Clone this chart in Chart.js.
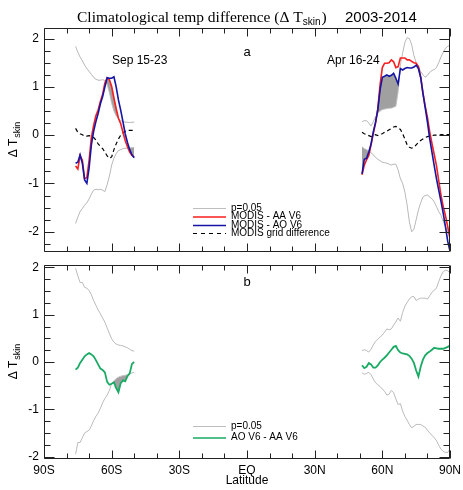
<!DOCTYPE html>
<html>
<head>
<meta charset="utf-8">
<script src="https://cdn.jsdelivr.net/npm/chart.js@4.4.0/dist/chart.umd.min.js"></script>
<style>
body { margin: 0; background: #fff; width: 463px; height: 490px; position: relative; overflow: hidden; }
canvas { position: absolute; left: 0; }
#panelA { top: 0; }
#panelB { top: 256px; }
</style>
</head>
<body>
<canvas id="panelA" width="463" height="256"></canvas>
<canvas id="panelB" width="463" height="234"></canvas>
<script>
// latitude grids (deg, negative = south)
const latSouth = [-76, -75, -74, -73, -72, -71, -70, -69, -68, -67, -66, -65, -64, -63, -62, -61, -60, -59, -58, -57, -56, -55, -54, -53, -52, -51, -50];
const latNorth = [51, 52, 53, 54, 55, 56, 57, 58, 59, 60, 61, 62, 63, 64, 65, 66, 67, 68, 69, 70, 71, 72, 73, 74, 75, 76, 77, 78, 79, 80, 81, 82, 83, 84, 85, 86, 87, 88, 89, 90];

// panel a, Sep 15-23
const aaSouth = [-0.64, -0.70, -0.42, -0.52, -0.90, -0.88, -0.52, -0.05, 0.20, 0.40, 0.52, 0.70, 0.85, 1.08, 1.19, 1.15, 1.01, 0.77, 0.55, 0.35, 0.24, 0.06, -0.11, -0.24, -0.35, -0.42, -0.45];
const aoSouth = [-0.58, -0.56, -0.41, -0.58, -0.93, -1.00, -0.68, -0.20, 0.08, 0.28, 0.45, 0.65, 0.80, 1.00, 1.19, 1.18, 1.18, 1.21, 1.00, 0.73, 0.52, 0.28, 0.03, -0.15, -0.30, -0.41, -0.47];
const gridSouth = [0.14, 0.06, 0.03, 0.01, -0.02, -0.02, -0.01, -0.02, -0.05, -0.10, -0.18, -0.23, -0.28, -0.35, -0.43, -0.48, -0.45, -0.30, -0.18, -0.08, 0.00, 0.05, 0.08, 0.10, 0.10, 0.10, 0.10];
const sigHiSouthA = [1.84, 1.72, 1.62, 1.54, 1.45, 1.38, 1.32, 1.26, 1.20, 1.16, 1.14, 1.14, 1.15, 1.13, 1.05, 0.88, 0.66, 0.50, 0.40, 0.34, 0.30, 0.28, 0.27, 0.27, 0.26, 0.27, 0.27];
const sigLoSouthA = [-1.83, -1.70, -1.58, -1.52, -1.45, -1.40, -1.32, -1.22, -1.14, -1.12, -1.13, -1.12, -1.14, -1.17, -1.02, -0.85, -0.62, -0.48, -0.38, -0.32, -0.30, -0.28, -0.27, -0.27, -0.26, -0.26, -0.25];

// panel a, Apr 16-24
const aaNorth = [-0.82, -0.62, -0.51, -0.42, -0.20, 0.04, 0.25, 0.55, 1.05, 1.40, 1.49, 1.49, 1.50, 1.56, 1.52, 1.40, 1.42, 1.60, 1.60, 1.60, 1.56, 1.56, 1.53, 1.50, 1.49, 1.42, 1.20, 0.87, 0.60, 0.37, 0.07, -0.17, -0.40, -0.63, -0.94, -1.24, -1.48, -1.67, -1.90, -2.15];
const aoNorth = [-0.80, -0.50, -0.48, -0.35, -0.18, 0.07, 0.27, 0.53, 0.94, 1.20, 1.22, 1.25, 1.22, 1.24, 1.28, 1.18, 1.06, 1.38, 1.35, 1.38, 1.40, 1.39, 1.39, 1.41, 1.45, 1.38, 1.20, 0.87, 0.57, 0.27, -0.07, -0.35, -0.63, -0.90, -1.14, -1.37, -1.62, -1.90, -2.20, -2.40];
const gridNorth = [0.06, 0.03, 0.01, -0.01, -0.03, -0.01, 0.01, -0.01, 0.02, 0.03, 0.06, 0.08, 0.11, 0.14, 0.17, 0.18, 0.15, 0.12, 0.03, -0.08, -0.20, -0.25, -0.27, -0.25, -0.20, -0.15, -0.11, -0.08, -0.05, -0.03, -0.02, -0.01, 0.00, 0.00, 0.00, 0.01, 0.01, 0.01, 0.01, 0.01];
const sigHiNorthA = [0.28, 0.30, 0.30, 0.25, 0.19, 0.28, 0.38, 0.45, 0.50, 0.53, 0.54, 0.55, 0.56, 0.56, 0.58, 0.60, 0.90, 1.45, 1.70, 1.92, 2.02, 2.00, 1.88, 1.65, 1.50, 1.42, 1.32, 1.25, 1.20, 1.24, 1.30, 1.34, 1.36, 1.40, 1.50, 1.62, 1.72, 1.80, 1.84, 1.86];
const sigLoNorthA = [-0.24, -0.28, -0.30, -0.33, -0.36, -0.41, -0.46, -0.50, -0.53, -0.56, -0.57, -0.58, -0.60, -0.62, -0.60, -0.60, -0.72, -0.90, -1.00, -1.18, -1.45, -1.80, -2.00, -1.95, -1.75, -1.55, -1.40, -1.28, -1.25, -1.24, -1.28, -1.32, -1.38, -1.48, -1.58, -1.66, -1.79, -1.90, -2.00, -2.10];

// panel b, AO V6 - AA V6
const diffSouth = [-0.16, -0.12, -0.02, 0.05, 0.12, 0.16, 0.19, 0.16, 0.12, 0.04, -0.05, -0.14, -0.17, -0.22, -0.42, -0.48, -0.46, -0.43, -0.55, -0.64, -0.45, -0.39, -0.41, -0.30, -0.24, -0.04, 0.00];
const sigHiSouthB = [1.98, 1.82, 1.68, 1.68, 1.58, 1.56, 1.51, 1.42, 1.30, 1.20, 1.10, 1.02, 0.93, 0.84, 0.72, 0.60, 0.49, 0.42, 0.38, 0.36, 0.35, 0.34, 0.32, 0.30, 0.27, 0.24, 0.23];
const sigLoSouthB = [-1.95, -1.70, -1.70, -1.60, -1.50, -1.47, -1.44, -1.35, -1.24, -1.15, -1.08, -0.98, -0.86, -0.77, -0.70, -0.60, -0.45, -0.40, -0.35, -0.32, -0.30, -0.29, -0.28, -0.27, -0.25, -0.23, -0.22];
const diffNorth = [-0.07, -0.13, -0.10, -0.02, -0.05, -0.12, -0.12, -0.07, 0.00, 0.05, 0.09, 0.14, 0.20, 0.26, 0.32, 0.34, 0.25, 0.20, 0.18, 0.17, 0.16, 0.13, 0.07, -0.02, -0.18, -0.31, -0.10, 0.05, 0.14, 0.19, 0.22, 0.26, 0.30, 0.29, 0.28, 0.28, 0.28, 0.30, 0.32, 0.35];
const sigHiNorthB = [0.24, 0.26, 0.24, 0.21, 0.27, 0.36, 0.44, 0.48, 0.53, 0.57, 0.63, 0.70, 0.68, 0.70, 0.78, 0.85, 0.93, 0.86, 1.05, 1.18, 1.26, 1.33, 1.38, 1.38, 1.30, 1.33, 1.35, 1.35, 1.35, 1.33, 1.40, 1.47, 1.52, 1.56, 1.70, 1.82, 1.91, 1.94, 1.93, 1.88];
const sigLoNorthB = [-0.23, -0.26, -0.24, -0.22, -0.27, -0.36, -0.44, -0.48, -0.52, -0.57, -0.62, -0.70, -0.68, -0.60, -0.65, -0.78, -0.90, -0.88, -1.04, -1.15, -1.23, -1.32, -1.39, -1.36, -1.32, -1.32, -1.32, -1.35, -1.38, -1.44, -1.50, -1.55, -1.60, -1.66, -1.76, -1.84, -1.89, -1.91, -1.91, -1.84];

// ticks
const xTickValues = [-90, -60, -30, 0, 30, 60, 90];
const xTickLabels = ['90S', '60S', '30S', 'EQ', '30N', '60N', '90N'];
const yTickValues = [-2, -1, 0, 1, 2];

const legendA = ['p=0.05', 'MODIS - AA V6', 'MODIS - AO V6', 'MODIS grid difference'];
const legendB = ['p=0.05', 'AO V6 - AA V6'];

const RED = 'rgb(250,30,30)';
const BLUE = 'rgb(20,20,165)';
const GREEN = 'rgb(25,170,100)';
const THR = 'rgb(190,190,190)';
const SHADE = 'rgb(160,160,160)';
const NONE = 'rgba(0,0,0,0)';
const SANS = '"Liberation Sans", Arial, sans-serif';
const SERIF = '"Liberation Serif", "Times New Roman", serif';

function pts(lat, vals) {
    return lat.map((x, i) => ({ x: x, y: vals[i] }));
}

function line(lat, vals, color, width, dash) {
    return {
        data: pts(lat, vals), borderColor: color, borderWidth: width,
        borderDash: dash || [], pointRadius: 0, fill: false, tension: 0
    };
}

function shade(lat, vals, target, above, below) {
    return {
        data: pts(lat, vals), borderColor: NONE, borderWidth: 0, pointRadius: 0,
        fill: { target: target, above: above || NONE, below: below || NONE }
    };
}

function panelADatasets() {
    const regions = [
        { lat: latSouth, aa: aaSouth, ao: aoSouth, grid: gridSouth, hi: sigHiSouthA, lo: sigLoSouthA },
        { lat: latNorth, aa: aaNorth, ao: aoNorth, grid: gridNorth, hi: sigHiNorthA, lo: sigLoNorthA }
    ];
    const lines = [], whites = [], grays = [];
    regions.forEach(r => {
        r.idx = lines.length;
        lines.push(line(r.lat, r.ao, BLUE, 1.6));
        lines.push(line(r.lat, r.aa, RED, 1.6));
        lines.push(line(r.lat, r.grid, '#000', 1.2, [4, 3]));
        lines.push(line(r.lat, r.hi, THR, 1));
        lines.push(line(r.lat, r.lo, THR, 1));
    });
    // shading only where both curves pass the threshold
    regions.forEach(r => {
        whites.push(shade(r.lat, r.ao, r.idx + 1, '#fff', null));
        whites.push(shade(r.lat, r.aa, r.idx, '#fff', null));
    });
    regions.forEach(r => {
        grays.push(shade(r.lat, r.aa, r.idx + 3, SHADE, null));
        grays.push(shade(r.lat, r.ao, r.idx + 3, SHADE, null));
        grays.push(shade(r.lat, r.aa, r.idx + 4, null, SHADE));
        grays.push(shade(r.lat, r.ao, r.idx + 4, null, SHADE));
    });
    return lines.concat(whites, grays);
}

function panelBDatasets() {
    const regions = [
        { lat: latSouth, d: diffSouth, hi: sigHiSouthB, lo: sigLoSouthB },
        { lat: latNorth, d: diffNorth, hi: sigHiNorthB, lo: sigLoNorthB }
    ];
    const lines = [], grays = [];
    regions.forEach(r => {
        r.idx = lines.length;
        lines.push(line(r.lat, r.d, GREEN, 1.8));
        lines.push(line(r.lat, r.hi, THR, 1));
        lines.push(line(r.lat, r.lo, THR, 1));
    });
    regions.forEach(r => {
        grays.push(shade(r.lat, r.d, r.idx + 1, SHADE, null));
        grays.push(shade(r.lat, r.d, r.idx + 2, null, SHADE));
    });
    return lines.concat(grays);
}

// box with inward ticks on all four sides
const framePlugin = {
    id: 'frame',
    afterDatasetsDraw(chart) {
        const { ctx, chartArea: a, scales: { x, y } } = chart;
        const L = Math.round(a.left) + 0.5, R = Math.round(a.right) - 0.5;
        const T = Math.round(a.top) + 0.5, B = Math.round(a.bottom) - 0.5;
        ctx.save();
        ctx.strokeStyle = '#222';
        ctx.lineWidth = 1;
        ctx.beginPath();
        ctx.rect(L, T, R - L, B - T);
        for (let v = x.min; v <= x.max; v += 10) {
            const px = Math.round(x.getPixelForValue(v)) + 0.5;
            const len = v % 30 === 0 ? 8 : 5;
            ctx.moveTo(px, B); ctx.lineTo(px, B - len);
            ctx.moveTo(px, T); ctx.lineTo(px, T + len);
        }
        for (let v = Math.ceil(y.min * 4) / 4; v <= y.max; v += 0.25) {
            const py = Math.round(y.getPixelForValue(v)) + 0.5;
            const len = Number.isInteger(v) ? 10 : 6;
            ctx.moveTo(L, py); ctx.lineTo(L + len, py);
            ctx.moveTo(R, py); ctx.lineTo(R - len, py);
        }
        ctx.stroke();
        ctx.restore();
    }
};

function yTitle(ctx, cx, cy) {
    ctx.save();
    ctx.translate(cx, cy);
    ctx.rotate(-Math.PI / 2);
    ctx.fillStyle = '#000';
    ctx.textBaseline = 'alphabetic';
    ctx.font = '12px ' + SANS;
    const w1 = ctx.measureText('Δ T').width;
    ctx.font = '9px ' + SANS;
    const w2 = ctx.measureText('skin').width;
    let x0 = -(w1 + w2) / 2;
    ctx.font = '12px ' + SANS;
    ctx.fillText('Δ T', x0, 0);
    ctx.font = '9px ' + SANS;
    ctx.fillText('skin', x0 + w1 + 1, 3);
    ctx.restore();
}

function legend(ctx, items, styles, x0, ys) {
    ctx.save();
    ctx.font = '10px ' + SANS;
    ctx.textBaseline = 'middle';
    ctx.fillStyle = '#000';
    items.forEach((label, i) => {
        const s = styles[i];
        ctx.strokeStyle = s.color;
        ctx.lineWidth = s.width;
        ctx.setLineDash(s.dash || []);
        ctx.beginPath();
        ctx.moveTo(x0, ys[i] + 0.5);
        ctx.lineTo(x0 + 33, ys[i] + 0.5);
        ctx.stroke();
        ctx.fillText(label, x0 + 38, ys[i]);
    });
    ctx.restore();
}

const textA = {
    id: 'textA',
    afterDraw(chart) {
        const ctx = chart.ctx, a = chart.chartArea;
        ctx.save();
        ctx.fillStyle = '#000';
        ctx.textBaseline = 'alphabetic';
        // title
        let x = 77;
        const main = 'Climatological temp difference (Δ T';
        ctx.font = '15.5px ' + SERIF;
        ctx.fillText(main, x, 22);
        x += ctx.measureText(main).width;
        ctx.font = '10px ' + SANS;
        ctx.fillText('skin', x, 25);
        x += ctx.measureText('skin').width + 1;
        ctx.font = '15.5px ' + SERIF;
        ctx.fillText(')', x, 22);
        ctx.font = '15px ' + SANS;
        ctx.fillText('2003-2014', 345, 22);
        // labels inside the panel
        ctx.textAlign = 'center';
        ctx.font = '13px ' + SANS;
        ctx.fillText('a', (a.left + a.right) / 2, 56);
        ctx.textAlign = 'left';
        ctx.font = '12px ' + SANS;
        ctx.fillText('Sep 15-23', 112, 64);
        ctx.fillText('Apr 16-24', 327, 64);
        ctx.restore();
        yTitle(ctx, 17, (a.top + a.bottom) / 2);
        legend(ctx, legendA, [
            { color: THR, width: 1 },
            { color: RED, width: 1.4 },
            { color: BLUE, width: 1.4 },
            { color: '#000', width: 1.2, dash: [4, 4] }
        ], 193, [208, 216.5, 225, 233]);
    }
};

const textB = {
    id: 'textB',
    afterDraw(chart) {
        const ctx = chart.ctx, a = chart.chartArea;
        ctx.save();
        ctx.fillStyle = '#000';
        ctx.textAlign = 'center';
        ctx.font = '13px ' + SANS;
        ctx.fillText('b', (a.left + a.right) / 2, 30);
        ctx.restore();
        yTitle(ctx, 17, (a.top + a.bottom) / 2);
        legend(ctx, legendB, [
            { color: THR, width: 1 },
            { color: GREEN, width: 1.6 }
        ], 193, [170, 181.5]);
    }
};

function baseOptions(yMin, yMax, showX, padTop, xHeight) {
    return {
        responsive: false,
        animation: false,
        devicePixelRatio: 1,
        layout: { padding: { top: padTop, right: 13, left: 0, bottom: 0 } },
        plugins: {
            legend: { display: false },
            tooltip: { enabled: false },
            filler: { drawTime: 'beforeDatasetsDraw' }
        },
        scales: {
            x: {
                type: 'linear', min: -90, max: 90,
                afterBuildTicks: ax => { ax.ticks = xTickValues.map(v => ({ value: v })); },
                afterFit: ax => { ax.height = xHeight; ax.paddingLeft = 0; ax.paddingRight = 0; },
                grid: { display: false, drawTicks: false },
                border: { display: false },
                ticks: {
                    display: showX, padding: 4, color: '#000', maxRotation: 0, autoSkip: false,
                    font: { family: SANS, size: 12 },
                    callback: v => xTickLabels[xTickValues.indexOf(v)]
                },
                title: {
                    display: showX, text: 'Latitude', color: '#000',
                    font: { family: SANS, size: 12 }, padding: { top: 0, bottom: 2 }
                }
            },
            y: {
                min: yMin, max: yMax,
                afterBuildTicks: ax => { ax.ticks = yTickValues.map(v => ({ value: v })); },
                afterFit: ax => { ax.width = 44; ax.paddingTop = 0; ax.paddingBottom = 0; },
                grid: { display: false, drawTicks: false },
                border: { display: false },
                ticks: { padding: 5, color: '#000', font: { family: SANS, size: 12 } }
            }
        }
    };
}

new Chart(document.getElementById('panelA'), {
    type: 'line',
    data: { datasets: panelADatasets() },
    options: baseOptions(-2.42, 2.22, false, 28, 4),
    plugins: [framePlugin, textA]
});

new Chart(document.getElementById('panelB'), {
    type: 'line',
    data: { datasets: panelBDatasets() },
    options: baseOptions(-2.05, 2.05, true, 9, 31),
    plugins: [framePlugin, textB]
});
</script>
</body>
</html>
